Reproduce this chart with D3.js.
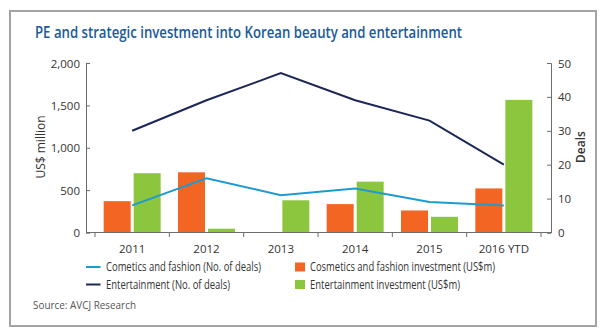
<!DOCTYPE html>
<html><head><meta charset="utf-8">
<script src="https://cdn.jsdelivr.net/npm/d3@7"></script>
<style>
html,body{margin:0;padding:0;background:#fff;}
svg{display:block;}
text{font-family:"Open Sans","Noto Sans",sans-serif;}
</style></head>
<body>
<svg id="c" width="600" height="331"></svg>
<script>
const years = ["2011","2012","2013","2014","2015","2016 YTD"];
const cosmeticsInvest = [370, 710, 0, 335, 260, 520];
const entertainmentInvest = [700, 45, 380, 600, 185, 1565];
const cosmeticsDeals = [8, 16, 11, 13, 9, 8];
const entertainmentDeals = [30, 39, 47, 39, 33, 20];
const leftTicks = [0, 500, 1000, 1500, 2000];
const rightTicks = [0, 10, 20, 30, 40, 50];

const C = {orange:"#f26522", green:"#8cc63f", navy:"#1c2657", cyan:"#1f9ad0", title:"#1b5a98", axis:"#6d6d6d", text:"#333"};

const svg = d3.select("#c");
svg.append("rect").attr("x",10).attr("y",11).attr("width",586).attr("height",315)
  .attr("fill","#fff").attr("stroke","#a3a3a3").attr("stroke-width",2);

svg.append("text").attr("x",35).attr("y",38).attr("fill",C.title)
  .attr("font-size",16).attr("font-weight",600)
  .attr("textLength",427).attr("lengthAdjust","spacingAndGlyphs")
  .text("PE and strategic investment into Korean beauty and entertainment");

const x = d3.scaleBand().domain(years).range([95,541]).paddingInner(0).paddingOuter(0);
const yL = d3.scaleLinear().domain([0,2000]).range([232.5,63]);
const yR = d3.scaleLinear().domain([0,50]).range([232.5,63]);

const barW = 27, gap = 3;
const g = svg.append("g");

g.selectAll(".bo").data(years).enter().append("rect")
  .attr("x",d=>x(d)+x.bandwidth()/2-gap/2-barW)
  .attr("y",(d,i)=>yL(cosmeticsInvest[i]))
  .attr("width",barW)
  .attr("height",(d,i)=>yL(0)-yL(cosmeticsInvest[i]))
  .attr("fill",C.orange);
g.selectAll(".bg").data(years).enter().append("rect")
  .attr("x",d=>x(d)+x.bandwidth()/2+gap/2)
  .attr("y",(d,i)=>yL(entertainmentInvest[i]))
  .attr("width",barW)
  .attr("height",(d,i)=>yL(0)-yL(entertainmentInvest[i]))
  .attr("fill",C.green);

const line = d3.line().x((d,i)=>x(years[i])+x.bandwidth()/2).y(d=>yR(d));
g.append("path").datum(entertainmentDeals).attr("d",line).attr("fill","none")
  .attr("stroke",C.navy).attr("stroke-width",2);
g.append("path").datum(cosmeticsDeals).attr("d",line).attr("fill","none")
  .attr("stroke",C.cyan).attr("stroke-width",2);

const axL = svg.append("g").attr("transform","translate(86,0)")
  .call(d3.axisRight(yL).tickValues(leftTicks).tickSize(4).tickFormat(d3.format(",")));
axL.selectAll("text").remove();
axL.selectAll(".tick").append("text").attr("x",-6).attr("dy","0.35em")
  .attr("text-anchor","end").attr("fill",C.text).attr("font-size",11.5)
  .text(d=>d3.format(",")(d));
const axR = svg.append("g").attr("transform","translate(551,0)")
  .call(d3.axisLeft(yR).tickValues(rightTicks).tickSize(4));
axR.selectAll("text").remove();
axR.selectAll(".tick").append("text").attr("x",7).attr("dy","0.35em")
  .attr("text-anchor","start").attr("fill",C.text).attr("font-size",11.5)
  .text(d=>d);
const axB = svg.append("g").attr("transform","translate(0,232.5)")
  .call(d3.axisBottom(x).tickSize(0).tickPadding(12));
axB.selectAll("text").attr("fill",C.text).attr("font-size",11.5).attr("font-family",'"Open Sans",sans-serif');
axB.select(".domain").remove();
svg.append("line").attr("x1",86).attr("x2",551).attr("y1",232.5).attr("y2",232.5)
  .attr("stroke",C.axis);
const bounds = years.map(d=>x(d)).concat([x.range()[1]]);
svg.selectAll(".bt").data(bounds).enter().append("line")
  .attr("x1",d=>d).attr("x2",d=>d).attr("y1",232.5).attr("y2",237)
  .attr("stroke",C.axis);
[axL,axR].forEach(a=>{a.select(".domain").attr("stroke",C.axis);a.selectAll(".tick line").attr("stroke",C.axis);});

svg.append("text").attr("transform","translate(41,147) rotate(-90)")
  .attr("dy","0.35em").attr("text-anchor","middle").attr("fill",C.text).attr("font-size",12).text("US$ million");
svg.append("text").attr("transform","translate(581,147) rotate(-90)")
  .attr("dy","0.35em").attr("text-anchor","middle").attr("fill",C.text).attr("font-size",12).attr("font-weight",600).text("Deals");

const leg = [
  {t:"line", c:C.cyan, x:86, y:267, label:"Cometics and fashion (No. of deals)", w:155},
  {t:"line", c:C.navy, x:86, y:284.5, label:"Entertainment (No. of deals)", w:124},
  {t:"rect", c:C.orange, x:295, y:267, label:"Cosmetics and fashion investment (US$m)", w:185},
  {t:"rect", c:C.green, x:295, y:284.5, label:"Entertainment investment (US$m)", w:150}
];
leg.forEach(l=>{
  if(l.t==="line"){
    svg.append("line").attr("x1",l.x).attr("x2",l.x+14.5).attr("y1",l.y).attr("y2",l.y)
      .attr("stroke",l.c).attr("stroke-width",2);
    svg.append("text").attr("x",l.x+20).attr("y",l.y).attr("dy","0.35em")
      .attr("fill",C.text).attr("font-size",12)
      .attr("textLength",l.w).attr("lengthAdjust","spacingAndGlyphs").text(l.label);
  } else {
    svg.append("rect").attr("x",l.x).attr("y",l.y-4.5).attr("width",10).attr("height",9).attr("fill",l.c);
    svg.append("text").attr("x",l.x+15).attr("y",l.y).attr("dy","0.35em")
      .attr("fill",C.text).attr("font-size",12)
      .attr("textLength",l.w).attr("lengthAdjust","spacingAndGlyphs").text(l.label);
  }
});

svg.append("text").attr("x",33).attr("y",305).attr("dy","0.35em")
  .attr("fill","#555").attr("font-size",10).attr("textLength",103).attr("lengthAdjust","spacingAndGlyphs")
  .text("Source: AVCJ Research");
</script>
</body></html>
